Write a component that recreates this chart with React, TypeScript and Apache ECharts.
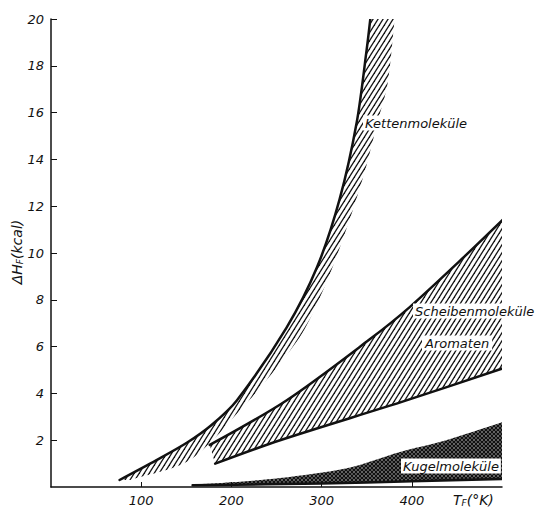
import React, { useEffect, useRef } from 'react';
import * as echarts from 'echarts';

// Axis ticks
const X_TICKS = [100, 200, 300, 400];
const Y_TICKS = [2, 4, 6, 8, 10, 12, 14, 16, 18, 20];

// Kettenmoleküle: drawn (left) edge and hatched outer edge
const KETTEN_EDGE_X = [76, 117, 151, 178, 206, 261, 295, 320, 339, 350, 354];
const KETTEN_EDGE_Y = [0.3, 1.15, 1.9, 2.65, 3.7, 6.8, 9.4, 12.3, 15.6, 18.7, 20];
const KETTEN_OUTER_X = [88, 154, 217, 250, 279, 306, 330, 348, 362, 373, 381];
const KETTEN_OUTER_Y = [0.3, 1.15, 3.6, 5.1, 6.6, 8.8, 11.3, 13.5, 15.6, 17.2, 20];

// Scheibenmoleküle / Aromaten band
const SCHEIBEN_TOP_X = [176, 261, 353, 398, 457, 503];
const SCHEIBEN_TOP_Y = [1.8, 3.7, 6.3, 7.7, 9.8, 11.5];
const SCHEIBEN_BOTTOM_X = [182, 254, 394, 503];
const SCHEIBEN_BOTTOM_Y = [1.0, 2.0, 3.7, 5.1];

// Kugelmoleküle band
const KUGEL_TOP_X = [157, 200, 254, 328, 387, 438, 503];
const KUGEL_TOP_Y = [0.1, 0.2, 0.38, 0.8, 1.5, 2.0, 2.8];
const KUGEL_BOTTOM_X = [157, 300, 400, 503];
const KUGEL_BOTTOM_Y = [0.08, 0.15, 0.25, 0.35];

const FONT = 'DejaVu Sans';
const INK = '#111';
const SMOOTH = 0.3;

function makeHatch(w: number, h: number, lw: number, cross: boolean) {
  const c = document.createElement('canvas');
  c.width = w;
  c.height = h;
  const g = c.getContext('2d')!;
  g.strokeStyle = INK;
  g.lineWidth = lw;
  for (let k = -2; k <= 2; k++) {
    g.beginPath();
    g.moveTo(k * w - w, 2 * h);
    g.lineTo(k * w + 2 * w, -h);
    g.stroke();
    if (cross) {
      g.beginPath();
      g.moveTo(k * w - w, -h);
      g.lineTo(k * w + 2 * w, 2 * h);
      g.stroke();
    }
  }
  return { image: c, repeat: 'repeat', imageWidth: w, imageHeight: h } as any;
}

// One custom series per band: hatched area between two edges plus the thick drawn edges
function bandSeries(
  tx: number[], ty: number[], bx: number[], by: number[],
  fill: any, strokeTop: boolean, strokeBottom: boolean
) {
  return {
    type: 'custom',
    coordinateSystem: 'cartesian2d',
    data: [[tx[0], ty[0]]],
    clip: true,
    silent: true,
    z: 2,
    renderItem: (_params: any, api: any) => {
      const top = tx.map((x, i) => api.coord([x, ty[i]]));
      const bot = bx.map((x, i) => api.coord([x, by[i]]));
      const botRev = bot.slice().reverse();
      const pts = [
        top[0], ...top, top[top.length - 1],
        botRev[0], ...botRev, botRev[botRev.length - 1],
      ];
      const children: any[] = [
        { type: 'polygon', shape: { points: pts, smooth: SMOOTH }, style: { fill, stroke: 'none' } },
      ];
      const lineStyle = { stroke: INK, lineWidth: 2.5, fill: 'none', lineCap: 'round', lineJoin: 'round' };
      if (strokeTop) children.push({ type: 'polyline', shape: { points: top, smooth: SMOOTH }, style: lineStyle });
      if (strokeBottom) children.push({ type: 'polyline', shape: { points: bot, smooth: SMOOTH }, style: lineStyle });
      return { type: 'group', children };
    },
  };
}

export default function App() {
  const ref = useRef<HTMLDivElement>(null);
  useEffect(() => {
    if (!ref.current) return;
    const chart = echarts.init(ref.current, null, { renderer: 'svg' });
    const hatch = makeHatch(5, 8, 1.3, false);
    const cross = makeHatch(4, 4, 1.6, true);
    const labelStyle = {
      fontFamily: FONT,
      fontStyle: 'italic',
      fontSize: 13,
      fill: INK,
      backgroundColor: '#fff',
      verticalAlign: 'middle',
      align: 'left',
    };
    const axisLabel = (ticks: number[]) => ({
      customValues: ticks,
      formatter: (v: number) => (ticks.includes(v) ? String(v) : ''),
      fontFamily: FONT,
      fontStyle: 'italic',
      fontSize: 13,
      color: INK,
      margin: 7,
    });
    chart.setOption({
      animation: false,
      backgroundColor: '#fff',
      grid: { left: 51, right: 40, top: 19, bottom: 24, containLabel: false },
      xAxis: {
        type: 'value',
        min: 0,
        max: 500,
        interval: 100,
        axisLine: { show: true, lineStyle: { color: INK, width: 1.5 } },
        axisTick: { show: true, inside: true, length: 5, customValues: X_TICKS, lineStyle: { color: INK } },
        axisLabel: axisLabel(X_TICKS),
        splitLine: { show: false },
      },
      yAxis: {
        type: 'value',
        min: 0,
        max: 20,
        interval: 2,
        axisLine: { show: true, lineStyle: { color: INK, width: 1.5 } },
        axisTick: { show: true, inside: true, length: 6, customValues: Y_TICKS, lineStyle: { color: INK } },
        axisLabel: axisLabel(Y_TICKS),
        splitLine: { show: false },
      },
      series: [
        bandSeries(KETTEN_EDGE_X, KETTEN_EDGE_Y, KETTEN_OUTER_X, KETTEN_OUTER_Y, hatch, true, false),
        bandSeries(SCHEIBEN_TOP_X, SCHEIBEN_TOP_Y, SCHEIBEN_BOTTOM_X, SCHEIBEN_BOTTOM_Y, hatch, true, true),
        bandSeries(KUGEL_TOP_X, KUGEL_TOP_Y, KUGEL_BOTTOM_X, KUGEL_BOTTOM_Y, cross, false, true),
      ],
      graphic: [
        { type: 'text', x: 363, y: 123, z: 100, style: { ...labelStyle, text: 'Kettenmoleküle', padding: [1, 2] } },
        { type: 'text', x: 413, y: 311, z: 100, style: { ...labelStyle, text: 'Scheibenmoleküle', padding: [1, 2] } },
        { type: 'text', x: 422, y: 343, z: 100, style: { ...labelStyle, text: 'Aromaten', padding: [1, 3] } },
        { type: 'text', x: 401, y: 466, z: 100, style: { ...labelStyle, text: 'Kugelmoleküle', padding: [1, 2] } },
        {
          type: 'text',
          x: 17,
          y: 252,
          rotation: Math.PI / 2,
          z: 100,
          style: {
            text: '{a|ΔH}{s|F}{a|(kcal)}',
            align: 'center',
            verticalAlign: 'middle',
            fill: INK,
            rich: {
              a: { fontFamily: FONT, fontStyle: 'italic', fontSize: 14, fill: INK },
              s: { fontFamily: FONT, fontStyle: 'italic', fontSize: 9, fill: INK, verticalAlign: 'bottom', padding: [6, 0, 0, 0] },
            },
          },
        },
        {
          type: 'text',
          x: 453,
          y: 500,
          z: 100,
          style: {
            text: '{a|T}{s|F}{a|(°K)}',
            align: 'left',
            verticalAlign: 'middle',
            fill: INK,
            rich: {
              a: { fontFamily: FONT, fontStyle: 'italic', fontSize: 14, fill: INK },
              s: { fontFamily: FONT, fontStyle: 'italic', fontSize: 9, fill: INK, verticalAlign: 'bottom', padding: [6, 0, 0, 0] },
            },
          },
        },
      ],
    });
    return () => chart.dispose();
  }, []);
  return (
    <div
      ref={ref}
      style={{ position: 'fixed', left: 0, top: 0, width: 542, height: 511, background: '#fff' }}
    />
  );
}
